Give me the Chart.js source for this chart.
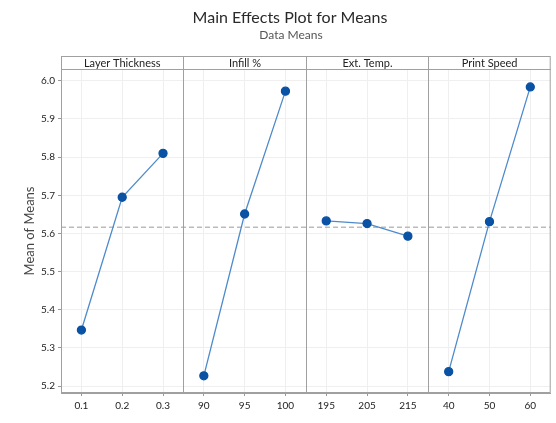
<!DOCTYPE html>
<html><head><meta charset="utf-8">
<script src="https://cdn.jsdelivr.net/npm/chart.js@4"></script>
<style>html,body{margin:0;padding:0;background:#fff}#w{width:556px;height:423px}</style>
</head><body><div id="w"><canvas id="c"></canvas></div>
<script>
const factors = ['Layer Thickness', 'Infill %', 'Ext. Temp.', 'Print Speed'];
const layerLevels = ['0.1', '0.2', '0.3'];
const infillLevels = ['90', '95', '100'];
const tempLevels = ['195', '205', '215'];
const speedLevels = ['40', '50', '60'];
const layerMeans = [5.347, 5.695, 5.810];
const infillMeans = [5.227, 5.651, 5.973];
const tempMeans = [5.633, 5.626, 5.593];
const speedMeans = [5.238, 5.631, 5.984];
const grandMean = 5.616;
const yTicks = [5.2, 5.3, 5.4, 5.5, 5.6, 5.7, 5.8, 5.9, 6.0];

const levelGroups = [layerLevels, infillLevels, tempLevels, speedLevels];
const meanGroups = [layerMeans, infillMeans, tempMeans, speedMeans];
const allLabels = levelGroups.flat();
const FONT = 'Lato, "Open Sans", sans-serif';

const datasets = meanGroups.map((m, i) => ({
  label: factors[i],
  data: m.map((v, j) => ({x: levelGroups[i][j], y: v})),
  borderColor: '#4f8bcb',
  backgroundColor: '#0a52a3',
  pointBackgroundColor: '#0a52a3',
  pointBorderColor: '#0a52a3',
  pointRadius: 4,
  borderWidth: 1.3,
  tension: 0
}));

const panelPlugin = {
  id: 'panels',
  beforeDatasetsDraw(chart) {
    const {ctx, chartArea: a, scales: {y}} = chart;
    ctx.save();
    const gy = y.getPixelForValue(grandMean);
    ctx.strokeStyle = '#bbbbbb';
    ctx.lineWidth = 1.5;
    ctx.setLineDash([5, 3]);
    ctx.beginPath(); ctx.moveTo(a.left, gy); ctx.lineTo(a.right, gy); ctx.stroke();
    ctx.setLineDash([]);
    ctx.restore();
  },
  afterDraw(chart) {
    const {ctx, chartArea: a, scales: {x}} = chart;
    ctx.save();
    const hh = 13;
    ctx.strokeStyle = '#a0a0a0';
    ctx.lineWidth = 1;
    ctx.strokeRect(a.left + 0.5, a.top - hh + 0.5, a.right - a.left - 1, a.bottom - a.top + hh - 1);
    ctx.beginPath(); ctx.moveTo(a.left, a.top + 0.5); ctx.lineTo(a.right, a.top + 0.5); ctx.stroke();
    const bounds = [a.left];
    for (let i = 1; i < factors.length; i++) {
      const px = Math.round(x.getPixelForValue(i * 3 - 0.5)) + 0.5;
      bounds.push(px);
      ctx.beginPath(); ctx.moveTo(px, a.top - hh); ctx.lineTo(px, a.bottom); ctx.stroke();
    }
    bounds.push(a.right);
    ctx.fillStyle = '#222';
    ctx.font = '11px ' + FONT;
    ctx.textAlign = 'center';
    ctx.textBaseline = 'middle';
    for (let i = 0; i < factors.length; i++) {
      ctx.fillText(factors[i], (bounds[i] + bounds[i + 1]) / 2, a.top - hh / 2 + 0.5);
    }
    ctx.fillStyle = '#2a2a2a';
    ctx.font = '16px ' + FONT;
    ctx.fillText('Main Effects Plot for Means', 290, 18);
    ctx.fillStyle = '#555';
    ctx.font = '12px ' + FONT;
    ctx.fillText('Data Means', 291, 35);
    ctx.restore();
  }
};

new Chart(document.getElementById('c'), {
  type: 'line',
  data: {labels: allLabels, datasets},
  options: {
    responsive: true, maintainAspectRatio: false, animation: false,
    layout: {padding: {top: 69, right: 3, left: 22, bottom: 0}},
    plugins: {legend: {display: false}, title: {display: false}, tooltip: {enabled: false}},
    scales: {
      x: {
        type: 'category', offset: true,
        grid: {offset: false, color: '#efefef', drawTicks: true, tickLength: 3, tickColor: '#999'},
        border: {color: '#a0a0a0'},
        ticks: {color: '#222', font: {family: FONT, size: 10}, padding: 4, maxRotation: 0, autoSkip: false},
        afterFit(s) { s.height = 30; }
      },
      y: {
        min: 5.182, max: 6.031,
        afterBuildTicks(s) { s.ticks = yTicks.map(v => ({value: v})); },
        grid: {color: '#efefef', tickLength: 3, tickColor: '#999'},
        border: {color: '#a0a0a0'},
        ticks: {color: '#222', font: {family: FONT, size: 10}, padding: 3, callback: v => v.toFixed(1)},
        title: {display: true, text: 'Mean of Means', color: '#444', font: {family: FONT, size: 13}, padding: {top: 0, bottom: 0}},
        afterFit(s) { s.width = 39; }
      }
    }
  },
  plugins: [panelPlugin]
});
</script>
</body></html>
